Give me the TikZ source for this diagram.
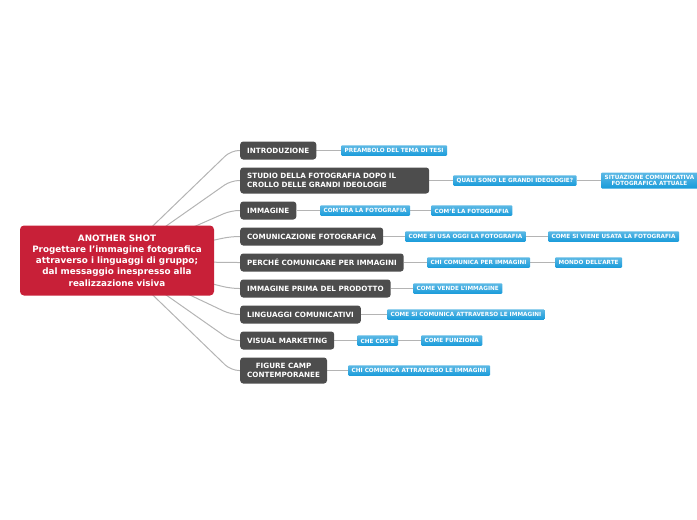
\documentclass[tikz,border=0pt]{standalone}
\usepackage{fontspec}
\setmainfont{DejaVu Sans}
\usetikzlibrary{positioning, backgrounds}
\definecolor{rootred}{RGB}{200, 32, 56}
\definecolor{topicgray}{RGB}{77, 77, 77}
\definecolor{subblue}{RGB}{24, 155, 218}
\definecolor{linkgray}{RGB}{180, 180, 180}
\tikzstyle{root} = [rectangle, fill=rootred, text=white, rounded corners=4pt, font=\fontsize{8.8}{11.2}\selectfont\bfseries, align=center, minimum width=194pt, minimum height=70pt]
\tikzstyle{topic} = [rectangle, fill=topicgray, text=white, rounded corners=3pt, font=\fontsize{7.2}{9}\selectfont\bfseries, minimum height=18pt, inner xsep=7pt, anchor=west]
\tikzstyle{sub} = [rectangle, top color=subblue!70!white, bottom color=subblue, text=white, rounded corners=1pt, font=\fontsize{5.7}{6.6}\selectfont\bfseries, minimum height=10.5pt, inner xsep=3.5pt, inner ysep=1pt, anchor=west]
\tikzstyle{link} = [draw=linkgray, line width=1pt]

\begin{document}
\begin{tikzpicture}[x=1pt, y=-1pt]
    \useasboundingbox (0,0) rectangle (697,520);

    % Central topic
    \node[root] (shot) at (117, 260.5) {ANOTHER SHOT\\Progettare l’immagine fotografica\\attraverso i linguaggi di gruppo;\\dal messaggio inespresso alla\\realizzazione visiva};

    % Main topics
    \node[topic] (intro) at (240, 150.5) {INTRODUZIONE};
    \node[topic, text width=175pt, align=left, minimum height=26pt] (studio) at (240, 180.5) {STUDIO DELLA FOTOGRAFIA DOPO IL\\CROLLO DELLE GRANDI IDEOLOGIE};
    \node[topic] (immagine) at (240, 210.5) {IMMAGINE};
    \node[topic] (comfoto) at (240, 236.5) {COMUNICAZIONE FOTOGRAFICA};
    \node[topic] (perche) at (240, 262.5) {PERCHÉ COMUNICARE PER IMMAGINI};
    \node[topic] (prima) at (240, 288.5) {IMMAGINE PRIMA DEL PRODOTTO};
    \node[topic] (linguaggi) at (240, 314.5) {LINGUAGGI COMUNICATIVI};
    \node[topic] (visual) at (240, 340.5) {VISUAL MARKETING};
    \node[topic, align=center, minimum height=26pt] (camp) at (240, 370.5) {FIGURE CAMP\\CONTEMPORANEE};

    % Subtopics
    \node[sub] (preambolo) at (341, 150.5) {PREAMBOLO DEL TEMA DI TESI};
    \node[sub] (ideologie) at (453, 180.5) {QUALI SONO LE GRANDI IDEOLOGIE?};
    \node[sub, align=center, minimum height=16pt] (situazione) at (601, 180.5) {SITUAZIONE COMUNICATIVA\\FOTOGRAFICA ATTUALE};
    \node[sub] (comera) at (320, 210.5) {COM’ERA LA FOTOGRAFIA};
    \node[sub] (come) at (431, 210.5) {COM’È LA FOTOGRAFIA};
    \node[sub] (oggi) at (405, 236.5) {COME SI USA OGGI LA FOTOGRAFIA};
    \node[sub] (usata) at (548, 236.5) {COME SI VIENE USATA LA FOTOGRAFIA};
    \node[sub] (chiper) at (427, 262.5) {CHI COMUNICA PER IMMAGINI};
    \node[sub] (arte) at (555, 262.5) {MONDO DELL’ARTE};
    \node[sub] (vende) at (413, 288.5) {COME VENDE L’IMMAGINE};
    \node[sub] (attraverso) at (387, 314.5) {COME SI COMUNICA ATTRAVERSO LE IMMAGINI};
    \node[sub] (cose) at (357, 340.5) {CHE COS’È};
    \node[sub] (funziona) at (421, 340.5) {COME FUNZIONA};
    \node[sub] (chiattr) at (348, 370.5) {CHI COMUNICA ATTRAVERSO LE IMMAGINI};

    % Branches
    \begin{scope}[on background layer]
        \foreach \t/\y in {intro/150.5, studio/180.5, immagine/210.5, comfoto/236.5, perche/262.5, prima/288.5, linguaggi/314.5, visual/340.5, camp/370.5}
            \draw[link, rounded corners=8pt] (shot.center) -- (231, \y) -- (\t.west);
        \draw[link] (intro) -- (preambolo);
        \draw[link] (studio) -- (ideologie);
        \draw[link] (ideologie) -- (situazione);
        \draw[link] (immagine) -- (comera);
        \draw[link] (comera) -- (come);
        \draw[link] (comfoto) -- (oggi);
        \draw[link] (oggi) -- (usata);
        \draw[link] (perche) -- (chiper);
        \draw[link] (chiper) -- (arte);
        \draw[link] (prima) -- (vende);
        \draw[link] (linguaggi) -- (attraverso);
        \draw[link] (visual) -- (cose);
        \draw[link] (cose) -- (funziona);
        \draw[link] (camp) -- (chiattr);
    \end{scope}
\end{tikzpicture}
\end{document}
